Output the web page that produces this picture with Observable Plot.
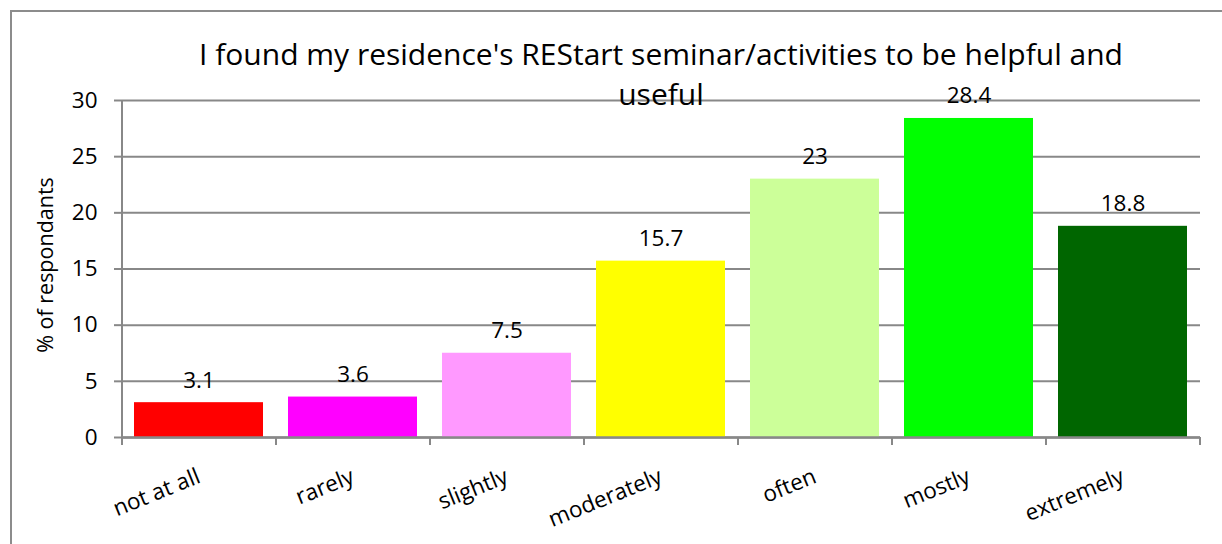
<!DOCTYPE html>
<html>
<head>
<meta charset="utf-8">
<script src="https://cdn.jsdelivr.net/npm/d3@7"></script>
<script src="https://cdn.jsdelivr.net/npm/@observablehq/plot@0.6"></script>
<style>
  html, body { margin: 0; padding: 0; background: #fff; }
  #wrap { position: relative; width: 1222px; height: 544px; overflow: hidden; font-family: "Open Sans", sans-serif; }
  #frame { position: absolute; left: 10px; top: 10px; width: 1300px; height: 600px; border-left: 2px solid #8c8c8c; border-top: 2px solid #8c8c8c; box-sizing: border-box; }
  #title { position: absolute; left: 122px; width: 1078px; top: 34px; text-align: center; font-size: 30px; line-height: 40px; color: #000; z-index: 2; }
  #chart { position: absolute; left: 0; top: 0; }
</style>
</head>
<body>
<div id="wrap">
  <div id="frame"></div>
  <div id="chart"></div>
  <div id="title">I found my residence's REStart seminar/activities to be helpful and<br>useful</div>
</div>
<script>
const categories = ["not at all", "rarely", "slightly", "moderately", "often", "mostly", "extremely"];
const values = [3.1, 3.6, 7.5, 15.7, 23, 28.4, 18.8];
const colors = ["#FF0000", "#FF00FF", "#FF99FF", "#FFFF00", "#CCFF99", "#00FF00", "#006600"];
const yTicks = [0, 5, 10, 15, 20, 25, 30];
const yLabel = "% of respondants";

const data = categories.map((c, i) => ({category: c, value: values[i], color: colors[i]}));
const gray = "#888888";
const fs = 22.5;

const chart = Plot.plot({
  width: 1222,
  height: 544,
  marginLeft: 122,
  marginRight: 22,
  marginTop: 100,
  marginBottom: 107,
  style: {fontFamily: "'Open Sans', sans-serif", fontSize: fs + "px", color: "#000", background: "transparent"},
  x: {domain: categories, paddingInner: 0.16, paddingOuter: 0.08},
  y: {domain: [0, 30]},
  marks: [
    Plot.gridY(yTicks, {stroke: gray, strokeOpacity: 1, strokeWidth: 2}),
    Plot.barY(data, {x: "category", y: "value", fill: "color"}),
    Plot.ruleY([0], {stroke: gray, strokeWidth: 2.5}),
    Plot.axisY(yTicks, {tickSize: 8, tickPadding: 17, stroke: gray, strokeWidth: 2, fill: "#000", fontSize: fs, label: null}),
    Plot.axisX({tickSize: 0, tickPadding: 38, tickRotate: -22, fill: "#000", fontSize: fs, label: null}),
    Plot.text([yLabel], {frameAnchor: "left", textAnchor: "middle", dx: -76, dy: -4, rotate: -90, fontSize: 21.5, fill: "#000"}),
    Plot.text(data, {x: "category", y: "value", text: d => String(d.value), lineAnchor: "bottom", dy: -15, fontSize: fs, fill: "#000"})
  ]
});

// Axis line and category boundary ticks drawn with d3 using the plot's scales
const svg = d3.select(chart);
const xs = chart.scale("x");
const ys = chart.scale("y");
const step = xs.step;
const x0 = xs.range[0];
const yZero = ys.apply(0);
const yTop = ys.apply(30);
const g = svg.append("g").attr("stroke", gray).attr("stroke-width", 2);
g.append("line").attr("x1", x0).attr("x2", x0).attr("y1", yTop).attr("y2", yZero + 8);
for (let i = 1; i <= categories.length; i++) {
  const xb = x0 + i * step;
  g.append("line").attr("x1", xb).attr("x2", xb).attr("y1", yZero).attr("y2", yZero + 8);
}
document.getElementById("chart").appendChild(chart);
</script>
</body>
</html>
